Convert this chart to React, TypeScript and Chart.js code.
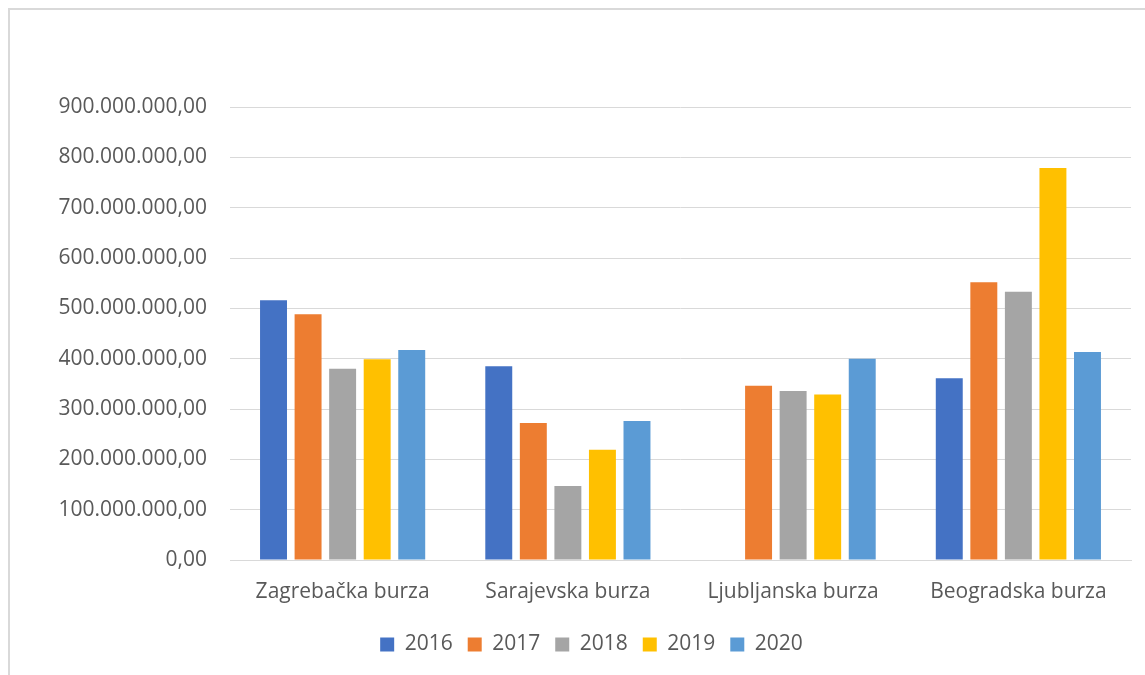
import React, { useEffect, useRef } from "react";
import { Chart, registerables } from "chart.js";

Chart.register(...registerables);

const categories = ["Zagrebačka burza", "Sarajevska burza", "Ljubljanska burza", "Beogradska burza"];
const years = ["2016", "2017", "2018", "2019", "2020"];
const values2016 = [516000000, 385000000, null, 361000000];
const values2017 = [488000000, 272000000, 346000000, 552000000];
const values2018 = [380000000, 147000000, 336000000, 533000000];
const values2019 = [399000000, 219000000, 329000000, 779000000];
const values2020 = [417000000, 276000000, 400000000, 413000000];
const colors = ["#4472C4", "#ED7D31", "#A5A5A5", "#FFC000", "#5B9BD5"];
const seriesValues = [values2016, values2017, values2018, values2019, values2020];
const yMin = 0;
const yMax = 900000000;
const yStep = 100000000;

function formatNumber(v: number): string {
  const intPart = Math.round(v).toString().replace(/\B(?=(\d{3})+(?!\d))/g, ".");
  return intPart + ",00";
}

const FONT = "'Open Sans', 'Noto Sans', sans-serif";
const TEXT = "#595959";

const legendShift = {
  id: "legendShift",
  afterLayout(chart: any) {
    const lg = chart.legend;
    if (lg) {
      lg.left += 26;
      lg.right += 26;
      lg.top += 3;
      lg.bottom += 3;
    }
  },
};

export default function App() {
  const ref = useRef<HTMLCanvasElement | null>(null);
  useEffect(() => {
    if (!ref.current) return;
    const chart = new Chart(ref.current, {
      type: "bar",
      data: {
        labels: categories,
        datasets: years.map((y, i) => ({
          label: y,
          data: seriesValues[i],
          backgroundColor: colors[i],
          borderWidth: 0,
          categoryPercentage: 0.767,
          barPercentage: 0.78,
        })),
      },
      plugins: [legendShift],
      options: {
        animation: false,
        responsive: false,
        devicePixelRatio: 1,
        layout: { padding: { left: 0, right: 14, top: 107, bottom: 13 } },
        plugins: {
          tooltip: { enabled: false },
          legend: {
            position: "bottom",
            labels: {
              boxWidth: 14,
              boxHeight: 14,
              padding: 15,
              color: TEXT,
              font: { family: FONT, size: 21 },
            },
          },
        },
        scales: {
          x: {
            grid: { display: false, drawTicks: false },
            border: { display: true, color: "#d9d9d9", width: 1 },
            ticks: { color: TEXT, font: { family: FONT, size: 21 }, padding: 19 },
            afterFit: (s: any) => {
              s.height = 56;
            },
          },
          y: {
            min: yMin,
            max: yMax,
            grid: { color: "#d9d9d9", lineWidth: 1, drawTicks: false },
            border: { display: false },
            ticks: {
              stepSize: yStep,
              color: TEXT,
              padding: 23,
              font: { family: FONT, size: 21 },
              callback: (v: any) => formatNumber(Number(v)),
            },
            afterFit: (s: any) => {
              s.width = 230;
            },
          },
        },
      },
    } as any);
    return () => chart.destroy();
  }, []);
  return (
    <div style={{ position: "fixed", left: 0, top: 0, width: 1145, height: 675, overflow: "hidden", background: "#fff" }}>
      <div
        style={{
          position: "absolute",
          left: 8,
          top: 8,
          width: 1200,
          height: 700,
          border: "2px solid #d9d9d9",
          boxSizing: "border-box",
        }}
      />
      <canvas ref={ref} width={1145} height={675} style={{ position: "absolute", left: 0, top: 0, width: 1145, height: 675 }} />
    </div>
  );
}
